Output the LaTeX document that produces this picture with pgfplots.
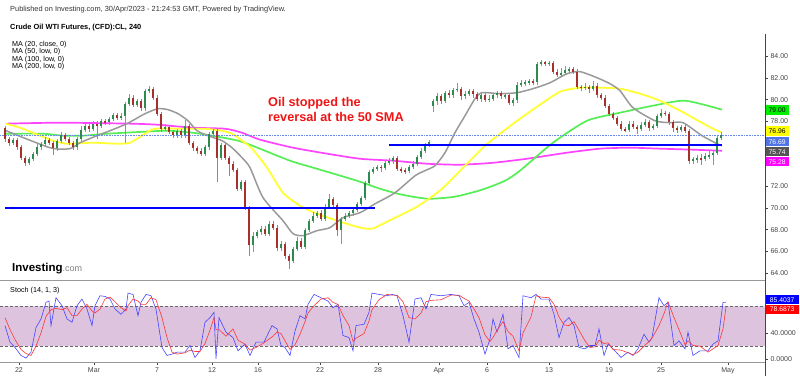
\documentclass[border=0pt]{standalone}
\usepackage{pgfplots}
\pgfplotsset{compat=1.18}
\usepackage{pgfplotstable}
\usepackage{fontspec}
\setmainfont{Liberation Sans}
\definecolor{upc}{HTML}{2E8B4E}
\definecolor{dnc}{HTML}{A8302A}
\definecolor{upw}{HTML}{6FA884}
\definecolor{dnw}{HTML}{B87A76}
\definecolor{ma20}{HTML}{999999}
\definecolor{ma50}{HTML}{FFFF33}
\definecolor{ma100}{HTML}{55EE55}
\definecolor{ma200}{HTML}{FF44FF}
\definecolor{band}{HTML}{DEC3DE}
\definecolor{labgray}{HTML}{444444}
\definecolor{kblue}{HTML}{4545FF}
\definecolor{dred}{HTML}{FF3535}
\definecolor{lastp}{HTML}{6A8CF0}
\definecolor{annred}{HTML}{F01414}

\pgfplotstableread{
x o h l c
5 77.4 77.6 76.1 76.4
9 76.4 76.6 75.7 76.0
13 76.0 76.5 75.8 76.3
17 76.3 76.5 75.4 75.6
21 75.6 75.8 74.4 74.6
25 74.6 74.8 73.9 74.2
29 74.2 74.7 74.0 74.5
33 74.5 75.2 74.3 75.0
37 75.0 75.9 74.8 75.6
41 75.6 76.1 75.4 75.9
45 75.9 76.6 75.7 76.3
49 76.3 76.5 75.8 76.0
53 76.0 76.2 74.9 75.5
57 75.5 76.4 75.3 76.2
61 76.2 77.0 76.0 76.7
65 76.7 76.9 76.2 76.4
69 76.4 76.6 75.8 76.0
73 76.0 76.2 75.4 75.6
77 75.6 76.6 75.4 76.4
81 76.4 77.6 76.2 77.2
85 77.2 77.9 77.0 77.6
89 77.6 77.8 77.0 77.3
93 77.3 78.0 77.1 77.8
97 77.8 78.0 76.4 77.6
101 77.6 78.2 77.4 78.0
105 78.0 78.2 77.7 77.9
109 77.9 78.4 77.7 78.2
113 78.2 78.8 78.0 78.6
117 78.6 78.8 78.1 78.3
121 78.3 78.8 78.1 78.5
125 78.5 79.8 76.0 79.6
129 79.6 80.5 79.4 80.2
133 80.2 80.4 79.3 79.5
137 79.5 80.1 79.3 79.9
141 79.9 80.1 79.0 79.2
145 79.2 81.0 79.0 80.8
149 80.8 81.3 80.6 81.0
153 81.0 81.2 80.0 80.2
157 80.2 80.4 78.5 78.7
161 78.7 78.9 77.0 77.3
165 77.3 77.8 77.1 77.5
169 77.5 77.7 76.8 77.0
173 77.0 77.2 76.5 76.7
177 76.7 77.3 76.5 77.1
181 77.1 77.3 76.5 76.7
185 76.7 78.1 76.5 77.6
189 77.6 77.8 75.8 76.0
193 76.0 76.2 75.3 75.5
197 75.5 75.7 75.0 75.3
201 75.3 75.5 74.8 75.0
205 75.0 75.8 74.8 75.6
209 75.6 77.0 75.4 76.8
213 76.8 77.3 76.6 77.1
217 77.1 77.3 72.4 74.6
221 74.6 76.0 74.4 75.8
225 75.8 76.0 74.4 74.6
229 74.6 74.8 73.0 74.1
233 74.1 74.3 73.3 73.5
237 73.5 73.7 71.6 71.8
241 71.8 72.6 71.6 72.4
245 72.4 72.6 69.8 70.0
249 70.0 70.2 65.6 66.6
253 66.6 67.8 65.9 67.4
257 67.4 68.0 67.2 67.8
261 67.8 68.3 67.5 68.1
265 68.1 68.3 67.4 67.6
269 67.6 68.8 67.4 68.5
273 68.5 68.8 68.0 68.2
277 68.2 68.4 66.0 66.3
281 66.3 67.0 66.0 66.7
285 66.7 66.9 65.3 65.6
289 65.6 65.8 64.4 65.1
293 65.1 66.4 64.9 66.2
297 66.2 67.3 66.0 67.0
301 67.0 67.2 66.2 66.4
305 66.4 68.2 66.2 68.0
309 68.0 69.0 67.8 68.8
313 68.8 69.6 68.6 69.3
317 69.3 69.7 69.1 69.5
321 69.5 69.8 68.8 69.0
325 69.0 70.4 68.8 70.1
329 70.1 71.3 69.9 70.8
333 70.8 71.0 70.1 70.3
337 70.3 70.5 67.4 68.0
341 68.0 69.2 66.7 69.0
345 69.0 69.5 68.8 69.3
349 69.3 69.7 69.1 69.5
353 69.5 70.0 69.3 69.8
357 69.8 70.6 69.6 70.4
361 70.4 71.1 70.2 70.9
365 70.9 72.5 70.7 72.3
369 72.3 73.5 72.1 73.3
373 73.3 73.8 73.1 73.6
377 73.6 74.0 73.4 73.8
381 73.8 74.0 73.3 73.7
385 73.7 74.4 73.5 74.2
389 74.2 74.6 74.0 74.3
393 74.3 74.8 74.1 74.6
397 74.6 74.8 73.4 73.6
401 73.6 73.8 73.2 73.5
405 73.5 73.7 73.1 73.4
409 73.4 74.0 73.2 73.8
413 73.8 74.3 73.6 74.1
417 74.1 74.9 73.9 74.7
421 74.7 75.5 74.5 75.3
425 75.3 76.0 75.1 75.8
429 75.8 76.3 75.6 76.1
433 79.4 80.1 78.9 79.9
437 79.9 80.6 79.5 80.3
441 80.3 80.5 79.6 79.9
445 79.9 80.8 79.7 80.6
449 80.6 80.9 80.2 80.4
453 80.4 81.1 80.2 80.9
457 80.9 81.5 80.7 81.0
461 81.0 81.2 80.0 80.3
465 80.3 80.8 80.1 80.5
469 80.5 81.0 80.3 80.8
473 80.8 81.0 80.2 80.5
477 80.5 80.7 79.9 80.1
481 80.1 80.6 79.8 80.4
485 80.4 80.6 79.8 80.0
489 80.0 80.4 79.8 80.1
493 80.1 80.6 79.9 80.4
497 80.4 80.8 80.2 80.6
501 80.6 80.8 80.1 80.3
505 80.3 80.6 80.1 80.4
509 80.4 80.6 79.5 79.7
513 79.7 80.2 79.4 80.0
517 80.0 81.6 79.7 81.4
521 81.4 81.8 81.2 81.5
525 81.5 81.8 81.3 81.6
529 81.6 81.9 81.4 81.7
533 81.7 81.9 81.4 81.6
537 81.6 83.5 81.4 83.3
541 83.3 83.7 83.1 83.5
545 83.5 83.6 83.1 83.3
549 83.3 83.6 83.1 83.4
553 83.4 83.6 82.4 82.6
557 82.6 82.8 82.1 82.3
561 82.3 82.9 82.1 82.5
565 82.5 83.1 82.3 82.7
569 82.7 83.0 82.5 82.8
573 82.8 83.0 82.4 82.6
577 82.6 82.8 81.0 81.2
581 81.2 81.4 80.8 81.1
585 81.1 81.5 80.9 81.2
589 81.2 81.4 80.6 81.0
593 81.0 81.7 80.8 81.3
597 81.3 81.5 80.2 80.4
601 80.4 80.6 80.0 80.2
605 80.2 80.4 79.2 79.4
609 79.4 79.6 78.5 78.7
613 78.7 78.9 78.1 78.3
617 78.3 78.5 77.6 77.8
621 77.8 78.0 77.1 77.3
625 77.3 77.5 77.0 77.2
629 77.2 78.0 77.0 77.8
633 77.8 78.0 77.3 77.5
637 77.5 77.7 76.8 77.3
641 77.3 77.9 77.1 77.7
645 77.7 78.2 77.5 77.9
649 77.9 78.1 77.1 77.4
653 77.4 77.8 77.2 77.6
657 77.6 78.7 77.4 78.5
661 78.5 79.1 78.3 78.8
665 78.8 79.0 78.5 78.7
669 78.7 78.9 77.7 77.9
673 77.9 78.1 77.0 77.4
677 77.4 77.6 76.9 77.2
681 77.2 77.7 77.0 77.5
685 77.5 77.7 76.9 77.1
689 77.1 77.3 74.1 74.3
693 74.3 74.7 74.1 74.5
697 74.5 74.9 74.2 74.6
701 74.6 75.0 74.0 74.5
705 74.5 75.1 74.3 74.8
709 74.8 75.3 74.5 74.9
713 74.9 75.4 74.0 75.1
717 75.1 76.7 74.9 76.5
721 76.5 77.0 76.3 76.7
}\candles

\begin{document}
\begin{tikzpicture}[x=1pt,y=1pt]
\path[use as bounding box] (0,0) rectangle (800,376);

% ---------- main price pane ----------
\begin{axis}[
  at={(0,89.8)}, anchor=south west, scale only axis,
  width=765pt, height=240pt,
  xmin=0, xmax=765, ymin=63.47, ymax=85.63,
  axis x line=none, axis y line*=right,
  y axis line style={draw=none},
  xtick=\empty,
  ytick={64,66,68,70,72,78,80,82,84},
  scaled y ticks=false,
  tick align=outside, major tick length=3pt,
  ytick style={draw=labgray, line width=0.5pt},
  y tick label style={font=\fontsize{7}{8}\selectfont, text=labgray, xshift=-1pt,
    /pgf/number format/.cd, fixed, fixed zerofill, precision=2, assume math mode=true},
]
% moving averages
\addplot[ma200, line width=1.7pt, smooth, tension=0.4] coordinates {
(6,77.79)(60,77.88)(130,77.79)(158,77.69)(192,77.42)(225,77.32)(242,76.95)(260,76.31)(293,75.57)(327,75.02)(360,74.55)(393,74.37)(427,74.09)(460,74.00)(493,74.18)(527,74.55)(567,75.11)(600,75.48)(630,75.57)(660,75.48)(692,75.39)(722,75.29)};
\addplot[ma100, line width=1.7pt, smooth, tension=0.4] coordinates {
(6,76.86)(43,76.86)(63,76.68)(83,76.68)(107,76.86)(145,77.05)(168,77.14)(192,76.96)(212,76.68)(238,76.22)(255,75.66)(290,74.37)(313,73.73)(337,73.08)(360,72.43)(380,71.78)(402,71.23)(428,70.86)(455,71.05)(482,71.69)(505,72.52)(520,73.45)(553,76.03)(587,78.06)(620,78.80)(653,79.45)(685,79.91)(722,79.08)};
\addplot[ma50, line width=1.8pt, smooth, tension=0.4] coordinates {
(6,77.78)(20,77.42)(40,76.68)(53,76.22)(67,75.94)(93,76.03)(117,75.94)(130,76.03)(145,76.86)(155,77.32)(185,77.32)(205,77.32)(222,77.14)(232,76.86)(242,76.22)(252,75.48)(267,73.73)(283,71.41)(300,70.21)(317,69.48)(337,68.83)(360,68.19)(372,68.09)(385,68.65)(417,70.12)(442,71.78)(465,73.91)(485,75.75)(500,76.86)(520,78.25)(540,79.54)(560,80.74)(580,81.11)(600,81.11)(620,81.02)(640,80.56)(660,79.91)(680,78.99)(700,77.97)(713,77.32)(722,76.96)};
\addplot[ma20, line width=1.5pt, smooth, tension=0.4] coordinates {
(6,77.14)(50,75.57)(70,75.48)(80,76.03)(97,76.68)(110,77.14)(127,77.79)(145,78.71)(158,79.17)(168,79.08)(178,78.71)(188,78.06)(197,77.14)(208,76.68)(222,76.22)(232,75.57)(242,74.65)(250,73.73)(263,70.96)(283,68.83)(293,67.63)(303,67.45)(317,67.91)(330,68.19)(343,69.11)(360,69.57)(375,70.39)(395,71.41)(415,72.98)(425,73.45)(435,73.91)(445,75.11)(455,76.96)(465,78.52)(475,80.09)(482,80.65)(500,80.56)(517,80.65)(533,81.02)(550,81.57)(567,82.40)(580,82.59)(597,82.03)(610,81.48)(620,80.83)(633,79.26)(655,78.06)(670,77.88)(683,77.88)(702,76.68)(717,75.94)(722,75.76)};
% last price dotted line
\addplot[lastp, densely dotted, line width=0.6pt] coordinates {(0,76.69)(765,76.69)};
% candles: wicks
\addplot[draw=none, mark=none, forget plot, restrict y to domain=0:200, unbounded coords=discard,
  error bars/.cd, y dir=both, y explicit, error mark=none,
  error bar style={line width=0.7pt, upw}]
  table[x=x, y expr={ifthenelse(\thisrow{c}>=\thisrow{o},(\thisrow{h}+\thisrow{l})/2,-1000)},
        y error expr={(\thisrow{h}-\thisrow{l})/2}] {\candles};
\addplot[draw=none, mark=none, forget plot, restrict y to domain=0:200, unbounded coords=discard,
  error bars/.cd, y dir=both, y explicit, error mark=none,
  error bar style={line width=0.7pt, dnw}]
  table[x=x, y expr={ifthenelse(\thisrow{c}<\thisrow{o},(\thisrow{h}+\thisrow{l})/2,-1000)},
        y error expr={(\thisrow{h}-\thisrow{l})/2}] {\candles};
% candles: bodies
\addplot[draw=none, mark=none, forget plot, restrict y to domain=0:200, unbounded coords=discard,
  error bars/.cd, y dir=both, y explicit, error mark=none,
  error bar style={line width=2.6pt, upc, line cap=butt}]
  table[x=x, y expr={ifthenelse(\thisrow{c}>=\thisrow{o},(\thisrow{o}+\thisrow{c})/2,-1000)},
        y error expr={max(abs(\thisrow{c}-\thisrow{o})/2,0.05)}] {\candles};
\addplot[draw=none, mark=none, forget plot, restrict y to domain=0:200, unbounded coords=discard,
  error bars/.cd, y dir=both, y explicit, error mark=none,
  error bar style={line width=2.6pt, dnc, line cap=butt}]
  table[x=x, y expr={ifthenelse(\thisrow{c}<\thisrow{o},(\thisrow{o}+\thisrow{c})/2,-1000)},
        y error expr={max(abs(\thisrow{c}-\thisrow{o})/2,0.05)}] {\candles};
% horizontal support / resistance lines
\addplot[blue, line width=2pt] coordinates {(5,70.03)(375,70.03)};
\addplot[blue, line width=2pt] coordinates {(389,75.78)(722,75.78)};
\end{axis}

% ---------- stochastic pane ----------
\begin{axis}[
  at={(0,20.5)}, anchor=south west, scale only axis,
  width=765pt, height=77pt,
  xmin=0, xmax=765, ymin=-4.5, ymax=111.6,
  axis x line*=bottom, axis y line*=right,
  x axis line style={draw=gray!80, line width=0.6pt},
  y axis line style={draw=none},
  xtick={19,94,157,212,258,320,378,439,487,549,609,661,728},
  xticklabels={22,Mar,7,12,16,22,28,Apr,6,13,19,25,May},
  ytick={0,40},
  scaled y ticks=false,
  tick align=outside, major tick length=3pt,
  tick style={draw=labgray, line width=0.5pt},
  x tick label style={font=\fontsize{7}{8}\selectfont, text=labgray, yshift=1pt},
  y tick label style={font=\fontsize{7}{8}\selectfont, text=labgray, xshift=-1pt,
    /pgf/number format/.cd, fixed, fixed zerofill, precision=4, assume math mode=true},
]
\addplot[draw=none, fill=band] coordinates {(0,20)(765,20)(765,80)(0,80)(0,20)};
\addplot[black!60, dashed, line width=0.6pt, dash pattern=on 3pt off 2pt] coordinates {(0,80)(765,80)};
\addplot[black!60, dashed, line width=0.6pt, dash pattern=on 3pt off 2pt] coordinates {(0,20)(765,20)};
\addplot[kblue, line width=0.6pt] coordinates {
(5,51)(10,26)(15,18)(21,6)(26,2)(31,11)(36,48)(41,61)(46,86)(49,88)(51,51)(56,93)(62,81)(67,61)(72,56)(77,81)(82,91)(87,76)(92,51)(95,81)(100,96)(105,95)(110,91)(115,76)(121,68)(126,76)(128,100)(133,98)(138,66)(141,86)(146,98)(151,96)(156,76)(162,18)(167,6)(172,8)(177,11)(185,11)(190,21)(195,3)(200,13)(205,56)(210,63)(214,71)(216,1)(219,63)(226,41)(233,33)(238,13)(245,23)(250,6)(256,26)(264,26)(272,51)(277,46)(281,21)(285,18)(290,6)(295,43)(300,66)(305,61)(308,83)(314,98)(321,93)(328,88)(333,78)(338,83)(343,36)(349,33)(353,13)(356,51)(364,53)(369,71)(372,100)(379,98)(387,96)(392,98)(397,96)(403,66)(409,26)(415,91)(421,93)(426,76)(431,98)(441,96)(451,98)(459,96)(464,81)(469,86)(474,61)(479,41)(485,8)(490,31)(493,61)(497,41)(503,68)(508,16)(513,21)(519,3)(523,96)(531,93)(536,98)(541,91)(549,91)(554,68)(559,33)(564,56)(569,63)(574,51)(579,18)(585,16)(590,21)(595,21)(599,46)(604,6)(608,23)(613,16)(621,3)(628,11)(633,6)(638,16)(644,38)(649,26)(652,33)(659,93)(664,81)(668,86)(674,21)(679,28)(685,16)(688,41)(693,6)(700,13)(708,13)(713,23)(718,28)(723,86)(726,86)};
\addplot[dred, line width=0.6pt] coordinates {
(5,63)(10,45)(15,30)(21,15)(26,9)(31,6)(36,20)(41,40)(46,65)(51,75)(56,77)(62,75)(67,78)(72,66)(77,66)(82,76)(87,83)(92,73)(95,70)(100,76)(105,91)(110,94)(115,87)(121,78)(126,73)(128,81)(133,91)(138,88)(141,83)(146,83)(151,93)(156,90)(162,63)(167,33)(172,11)(177,8)(185,10)(190,14)(195,12)(200,12)(205,24)(210,44)(214,63)(216,45)(219,45)(226,35)(233,46)(238,29)(245,23)(250,14)(256,18)(264,25)(272,34)(277,41)(281,39)(285,28)(290,15)(295,22)(300,38)(305,57)(308,70)(314,81)(321,91)(328,93)(333,86)(338,83)(343,66)(349,51)(353,27)(356,32)(364,39)(369,58)(372,75)(379,90)(387,98)(392,97)(397,97)(403,87)(409,63)(415,61)(421,70)(426,87)(431,89)(441,90)(451,97)(459,97)(464,92)(469,88)(474,76)(479,63)(485,37)(490,27)(493,33)(497,44)(503,57)(508,42)(513,35)(519,13)(523,40)(531,64)(536,96)(541,94)(549,93)(554,83)(559,64)(564,52)(569,51)(574,57)(579,44)(585,28)(590,18)(595,19)(599,29)(604,24)(608,25)(613,15)(621,14)(628,10)(633,7)(638,11)(644,20)(649,27)(652,32)(659,51)(664,69)(668,87)(674,63)(679,45)(685,22)(688,28)(693,21)(700,20)(708,11)(713,16)(718,21)(723,46)(726,79)};
\end{axis}

% ---------- frame pieces ----------
\draw[gray!80, line width=1.4pt] (0,95.5) -- (765,95.5);
\draw[labgray, line width=0.7pt] (765,0) -- (765,342);

% ---------- texts ----------
\node[anchor=base west, inner sep=0, text=black!80, font=\fontsize{7.4}{8}\selectfont] at (10,364)
  {Published on Investing.com, 30/Apr/2023 - 21:24:53 GMT, Powered by TradingView.};
\node[anchor=base west, inner sep=0, font=\fontsize{7.4}{8}\selectfont\bfseries] at (10,347)
  {Crude Oil WTI Futures, (CFD):CL, 240};
\node[anchor=base west, inner sep=0, font=\fontsize{7.2}{8}\selectfont] at (12,330) {MA (20, close, 0)};
\node[anchor=base west, inner sep=0, font=\fontsize{7.2}{8}\selectfont] at (12,322.5) {MA (50, low, 0)};
\node[anchor=base west, inner sep=0, font=\fontsize{7.2}{8}\selectfont] at (12,315) {MA (100, low, 0)};
\node[anchor=base west, inner sep=0, font=\fontsize{7.2}{8}\selectfont] at (12,307.5) {MA (200, low, 0)};

\node[anchor=base west, inner sep=0, text=annred, font=\fontsize{12.7}{14}\selectfont\bfseries] at (268,270) {Oil stopped the};
\node[anchor=base west, inner sep=0, text=annred, font=\fontsize{12.7}{14}\selectfont\bfseries] at (268,255) {reversal at the 50 SMA};

\node[anchor=base west, inner sep=0] at (12,105)
  {{\fontsize{11.5}{12}\selectfont\bfseries Investing}{\fontsize{9}{12}\selectfont\color{black!50}.com}};

\node[anchor=base west, inner sep=0, font=\fontsize{7.2}{8}\selectfont] at (10,83.5) {Stoch (14, 1, 3)};

% price tags
\tikzset{tag/.style={anchor=west, inner sep=0pt, minimum width=23pt, minimum height=9.5pt, font=\fontsize{6.8}{7}\selectfont}}
\node[tag, fill={rgb,255:red,0;green,238;blue,0}, text=black] at (765.5,266) {79.00};
\node[tag, fill={rgb,255:red,255;green,255;blue,0}, text=black] at (765.5,245) {76.96};
\node[tag, fill={rgb,255:red,80;green,115;blue,230}, text=white] at (765.5,234.3) {76.69};
\node[tag, fill={rgb,255:red,85;green,85;blue,85}, text=white] at (765.5,224.3) {75.74};
\node[tag, fill={rgb,255:red,255;green,0;blue,255}, text=white] at (765.5,214.3) {75.28};
\node[tag, minimum width=33pt, fill={rgb,255:red,0;green,0;blue,255}, text=white] at (765.5,76.3) {85.4037};
\node[tag, minimum width=33pt, fill={rgb,255:red,255;green,0;blue,0}, text=white] at (765.5,66.7) {78.6873};
\end{tikzpicture}
\end{document}
